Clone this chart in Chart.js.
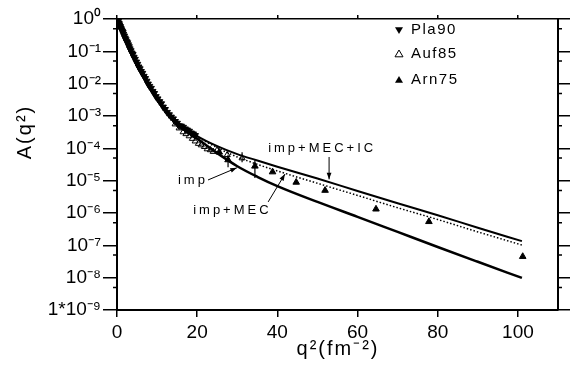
<!DOCTYPE html>
<html>
<head>
<meta charset="utf-8">
<script src="https://cdn.jsdelivr.net/npm/chart.js@4.4.0/dist/chart.umd.min.js"></script>
<style>
  html, body { margin: 0; padding: 0; background: #fff; }
  #wrap { width: 570px; height: 367px; }
</style>
</head>
<body>
<div id="wrap"><canvas id="chart" width="570" height="367"></canvas></div>
<script>
// theory curves (q^2 in fm^-2, A(q^2))
const curveX    = [0, 1, 2, 4, 6, 8, 10, 12, 15, 20, 25, 30, 35, 40, 50, 60, 70, 80, 90, 101];
const impY      = [1, 0.5, 0.25, 6.6e-2, 2.2e-2, 8.5e-3, 3.5e-3, 1.6e-3, 6.3e-4, 2.0e-4, 7.1e-5, 2.8e-5, 1.32e-5, 6.8e-6, 2.2e-6, 7.6e-7, 2.6e-7, 8.9e-8, 3.1e-8, 9.8e-9];
const impMecY   = [1, 0.5, 0.25, 6.6e-2, 2.2e-2, 8.5e-3, 3.5e-3, 1.6e-3, 6.4e-4, 2.3e-4, 1.05e-4, 5.4e-5, 3.2e-5, 2.0e-5, 8.3e-6, 3.5e-6, 1.45e-6, 6.3e-7, 2.6e-7, 1.02e-7];
const impMecIcY = [1, 0.5, 0.25, 6.6e-2, 2.2e-2, 8.5e-3, 3.5e-3, 1.6e-3, 6.5e-4, 2.4e-4, 1.17e-4, 6.6e-5, 4.2e-5, 2.7e-5, 1.17e-5, 4.8e-6, 2.0e-6, 8.5e-7, 3.5e-7, 1.35e-7];

// Pla90 (filled, pointing down)
const pla90X = [0.2, 0.3, 0.4, 0.5, 0.6, 0.7, 0.8, 0.9, 1.0, 1.15, 1.3, 1.45, 1.6, 1.8, 2.0, 2.2, 2.4, 2.6, 2.8, 3.0, 3.2, 3.45, 3.7, 3.95, 4.2, 4.5, 4.8, 5.1, 5.4, 5.7, 6.0, 6.35, 6.7, 7.05, 7.4, 7.75, 8.1, 8.5, 8.9, 9.3, 9.7, 10.15, 10.6, 11.05, 11.5, 12.0, 12.5, 13.0, 13.5, 14.0, 14.5, 15.0, 15.5, 16.0, 16.5, 17.0, 17.5, 18.0, 18.5, 19.0, 19.5];
const pla90Y = [0.93, 0.87, 0.76, 0.72, 0.66, 0.6, 0.58, 0.53, 0.5, 0.46, 0.42, 0.39, 0.34, 0.3, 0.26, 0.23, 0.2, 0.185, 0.16, 0.14, 0.12, 0.105, 0.089, 0.08, 0.066, 0.057, 0.047, 0.04, 0.033, 0.029, 0.024, 0.021, 0.017, 0.0145, 0.012, 0.0098, 8.3e-3, 7.2e-3, 5.8e-3, 5.0e-3, 4.0e-3, 3.4e-3, 2.8e-3, 2.4e-3, 1.9e-3, 1.6e-3, 1.3e-3, 1.1e-3, 9.3e-4, 8.2e-4, 6.8e-4, 6.0e-4, 5.0e-4, 4.9e-4, 4.5e-4, 4.0e-4, 3.7e-4, 3.4e-4, 3.0e-4, 2.8e-4, 2.5e-4];

// Auf85 (open)
const auf85X = [14.5, 15.5, 16.5, 17.2, 18.0, 18.8, 19.5, 20.3, 21.0, 21.8, 22.5, 23.3, 24.0, 25.0, 27.5, 31.2];
const auf85Y = [5.6e-4, 4.2e-4, 3.2e-4, 2.8e-4, 2.4e-4, 2.0e-4, 1.66e-4, 1.4e-4, 1.26e-4, 1.12e-4, 9.5e-5, 8.9e-5, 7.9e-5, 8.9e-5, 6.3e-5, 5.0e-5];

// Arn75 (filled)
const arn75X = [25.5, 27.7, 34.4, 38.8, 44.7, 51.9, 64.6, 77.8, 101.2];
const arn75Y = [7.6e-5, 4.4e-5, 2.8e-5, 1.86e-5, 8.9e-6, 5.0e-6, 1.32e-6, 5.4e-7, 4.5e-8];

// error bars
const errX  = [27.7, 31.2, 34.4];
const errLo = [2.6e-5, 3.7e-5, 1.2e-5];
const errHi = [6.3e-5, 7.5e-5, 4.4e-5];

// axes
const xTicks = [0, 20, 40, 60, 80, 100];
const yTicks = [1, 1e-1, 1e-2, 1e-3, 1e-4, 1e-5, 1e-6, 1e-7, 1e-8, 1e-9];
const yTickLabels = ['10⁰', '10⁻¹', '10⁻²', '10⁻³', '10⁻⁴', '10⁻⁵', '10⁻⁶', '10⁻⁷', '10⁻⁸', '1*10⁻⁹'];
const yMinor = [5e-1, 5e-2, 5e-3, 5e-4, 5e-5, 5e-6, 5e-7, 5e-8, 5e-9];

// curve labels: text anchor and arrow (data coordinates)
const notes = [
    { text: 'imp+MEC+IC', x: 37.7, y: 1.0e-4, from: [52.9, 5.4e-5], to: [52.9, 1.1e-5] },
    { text: 'imp', x: 15.2, y: 1.05e-5, from: [22.7, 1.05e-5], to: [29.9, 2.5e-5] },
    { text: 'imp+MEC', x: 19.0, y: 1.23e-6, from: [37.7, 2.2e-6], to: [41.9, 1.6e-5] }
];

const FONT = '"Liberation Sans", Arial, sans-serif';

function toPoints(xs, ys) {
    return xs.map((x, i) => ({ x: x, y: ys[i] }));
}

function drawArrow(ctx, x1, y1, x2, y2) {
    const a = Math.atan2(y2 - y1, x2 - x1);
    ctx.beginPath();
    ctx.moveTo(x1, y1);
    ctx.lineTo(x2, y2);
    ctx.stroke();
    ctx.beginPath();
    ctx.moveTo(x2, y2);
    ctx.lineTo(x2 - 7 * Math.cos(a - 0.35), y2 - 7 * Math.sin(a - 0.35));
    ctx.lineTo(x2 - 7 * Math.cos(a + 0.35), y2 - 7 * Math.sin(a + 0.35));
    ctx.closePath();
    ctx.fill();
}

// extra drawing: minor ticks, error bars, labels, legend, axis titles
const decorPlugin = {
    id: 'decor',
    afterDraw(chart) {
        const ctx = chart.ctx;
        const xs = chart.scales.x;
        const ys = chart.scales.y;
        const area = chart.chartArea;
        ctx.save();
        ctx.strokeStyle = '#000';
        ctx.fillStyle = '#000';

        // minor ticks
        ctx.lineWidth = 1.5;
        yMinor.forEach(v => {
            const py = ys.getPixelForValue(v);
            ctx.beginPath();
            ctx.moveTo(area.left - 4, py);
            ctx.lineTo(area.left, py);
            ctx.moveTo(area.right, py);
            ctx.lineTo(area.right + 4, py);
            ctx.stroke();
        });

        // error bars
        ctx.lineWidth = 1.2;
        errX.forEach((x, i) => {
            const px = xs.getPixelForValue(x);
            ctx.beginPath();
            ctx.moveTo(px, ys.getPixelForValue(errHi[i]));
            ctx.lineTo(px, ys.getPixelForValue(errLo[i]));
            ctx.stroke();
        });

        // curve labels
        ctx.font = '13px ' + FONT;
        ctx.letterSpacing = '3px';
        ctx.textBaseline = 'middle';
        ctx.textAlign = 'left';
        ctx.lineWidth = 1;
        notes.forEach(n => {
            ctx.fillText(n.text, xs.getPixelForValue(n.x), ys.getPixelForValue(n.y));
            drawArrow(ctx,
                xs.getPixelForValue(n.from[0]), ys.getPixelForValue(n.from[1]),
                xs.getPixelForValue(n.to[0]), ys.getPixelForValue(n.to[1]));
        });

        // legend
        const legend = [
            { label: 'Pla90', down: true, fill: true, y: 30 },
            { label: 'Auf85', down: false, fill: false, y: 54 },
            { label: 'Arn75', down: false, fill: true, y: 80 }
        ];
        ctx.font = '15px ' + FONT;
        ctx.letterSpacing = '1.5px';
        legend.forEach(e => {
            const cx = 399, cy = e.y, s = 4;
            ctx.beginPath();
            if (e.down) {
                ctx.moveTo(cx - s, cy - s * 0.7);
                ctx.lineTo(cx + s, cy - s * 0.7);
                ctx.lineTo(cx, cy + s);
            } else {
                ctx.moveTo(cx - s, cy + s * 0.7);
                ctx.lineTo(cx + s, cy + s * 0.7);
                ctx.lineTo(cx, cy - s);
            }
            ctx.closePath();
            if (e.fill) ctx.fill(); else ctx.stroke();
            ctx.fillText(e.label, 411, cy);
        });

        // axis titles
        ctx.letterSpacing = '2px';
        ctx.font = '20px ' + FONT;
        ctx.textAlign = 'center';
        ctx.fillText('q²(fm⁻²)', 338, 349);
        ctx.translate(25, 132);
        ctx.rotate(-Math.PI / 2);
        ctx.fillText('A(q²)', 0, 0);
        ctx.restore();
    }
};

const axisGrid = (len) => ({
    drawOnChartArea: false,
    drawTicks: true,
    tickLength: len,
    color: '#000',
    lineWidth: 1.5
});

new Chart(document.getElementById('chart'), {
    type: 'scatter',
    data: {
        datasets: [
            {
                label: 'Pla90',
                data: toPoints(pla90X, pla90Y),
                pointStyle: 'triangle',
                rotation: 180,
                pointRadius: 3.8,
                backgroundColor: '#000',
                borderColor: '#000',
                borderWidth: 1,
                order: 1
            },
            {
                label: 'Auf85',
                data: toPoints(auf85X, auf85Y),
                pointStyle: 'triangle',
                pointRadius: 3.5,
                backgroundColor: 'rgba(255,255,255,0)',
                borderColor: '#000',
                borderWidth: 1,
                order: 1
            },
            {
                label: 'Arn75',
                data: toPoints(arn75X, arn75Y),
                pointStyle: 'triangle',
                pointRadius: 3.8,
                backgroundColor: '#000',
                borderColor: '#000',
                borderWidth: 1,
                order: 1
            },
            {
                label: 'imp',
                data: toPoints(curveX, impY),
                showLine: true,
                pointRadius: 0,
                borderColor: '#000',
                borderWidth: 2.5,
                cubicInterpolationMode: 'monotone',
                order: 2
            },
            {
                label: 'imp+MEC',
                data: toPoints(curveX, impMecY),
                showLine: true,
                pointRadius: 0,
                borderColor: '#000',
                borderWidth: 1.5,
                borderDash: [1.5, 2],
                cubicInterpolationMode: 'monotone',
                order: 2
            },
            {
                label: 'imp+MEC+IC',
                data: toPoints(curveX, impMecIcY),
                showLine: true,
                pointRadius: 0,
                borderColor: '#000',
                borderWidth: 2,
                cubicInterpolationMode: 'monotone',
                order: 2
            }
        ]
    },
    options: {
        responsive: false,
        animation: false,
        layout: { padding: 0 },
        plugins: {
            legend: { display: false },
            tooltip: { enabled: false }
        },
        scales: {
            x: {
                type: 'linear',
                position: 'bottom',
                min: 0,
                max: 110,
                afterBuildTicks: s => { s.ticks = xTicks.map(v => ({ value: v })); },
                afterFit: s => { s.height = 57; },
                grid: axisGrid(7),
                border: { display: true, color: '#000', width: 2 },
                ticks: { color: '#000', padding: 4, font: { family: FONT, size: 19 } }
            },
            x2: {
                type: 'linear',
                position: 'top',
                min: 0,
                max: 110,
                afterBuildTicks: s => { s.ticks = xTicks.map(v => ({ value: v })); },
                afterFit: s => { s.height = 19; },
                grid: axisGrid(4),
                border: { display: true, color: '#000', width: 1.5 },
                ticks: { display: false }
            },
            y: {
                type: 'logarithmic',
                position: 'left',
                min: 1e-9,
                max: 1,
                afterBuildTicks: s => { s.ticks = yTicks.map(v => ({ value: v })); },
                afterFit: s => { s.width = 117; },
                grid: axisGrid(14),
                border: { display: true, color: '#000', width: 2 },
                ticks: {
                    color: '#000',
                    padding: 2,
                    font: { family: FONT, size: 19 },
                    callback: (v, i) => yTickLabels[i]
                }
            },
            y2: {
                type: 'logarithmic',
                position: 'right',
                min: 1e-9,
                max: 1,
                afterBuildTicks: s => { s.ticks = yTicks.map(v => ({ value: v })); },
                afterFit: s => { s.width = 12; },
                grid: axisGrid(12),
                border: { display: true, color: '#000', width: 2 },
                ticks: { display: false }
            }
        }
    },
    plugins: [decorPlugin]
});
</script>
</body>
</html>
